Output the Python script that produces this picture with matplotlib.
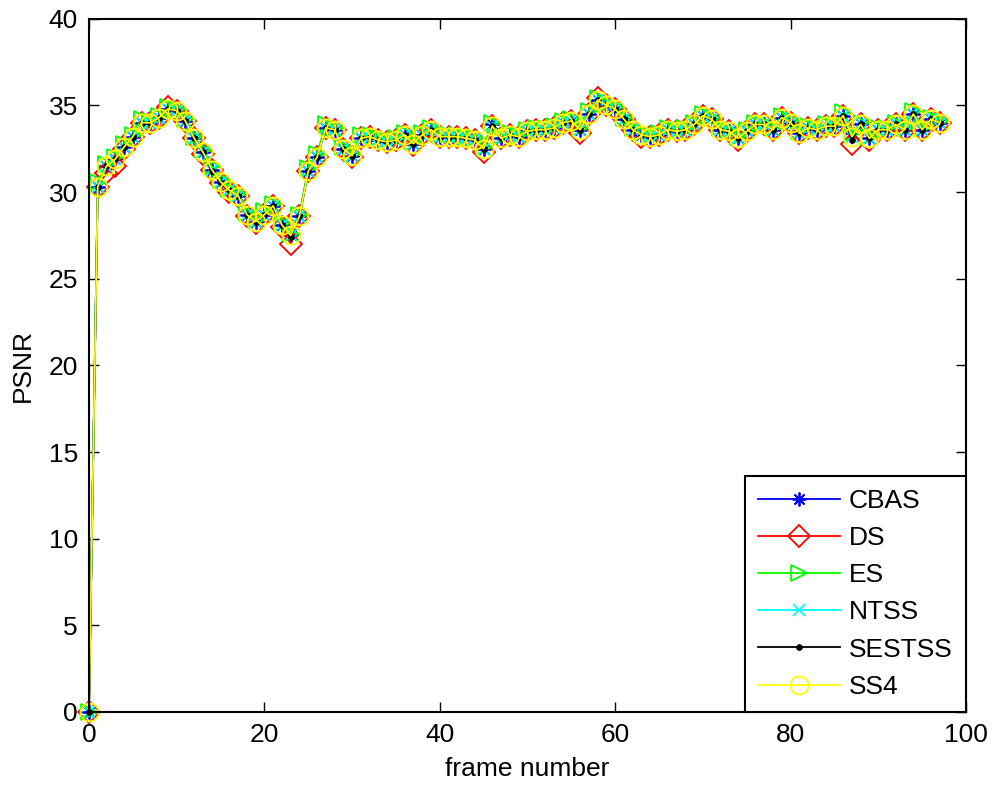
import numpy as np
import matplotlib
matplotlib.use("Agg")
import matplotlib.pyplot as plt

# PSNR per frame for each block-matching search method
frames = list(range(98))

cbas = [0.0, 30.3, 31.5, 31.9, 32.6, 33.2, 34.0, 34.0, 34.3, 34.8,
        34.7, 34.1, 33.1, 32.3, 31.3, 30.6, 30.1, 29.8, 28.7, 28.3,
        28.7, 29.2, 28.1, 27.5, 28.6, 31.2, 32.0, 33.7, 33.6, 32.5,
        32.1, 33.1, 33.2, 33.0, 32.9, 33.0, 33.3, 32.8, 33.3, 33.6,
        33.2, 33.2, 33.2, 33.1, 33.0, 32.5, 33.9, 33.1, 33.3, 33.2,
        33.5, 33.6, 33.6, 33.7, 34.0, 34.1, 33.6, 34.5, 35.3, 35.0,
        34.8, 34.2, 33.6, 33.3, 33.2, 33.3, 33.6, 33.5, 33.6, 33.9,
        34.4, 34.2, 33.6, 33.5, 33.1, 33.5, 33.9, 33.9, 33.6, 34.3,
        34.0, 33.4, 33.7, 33.6, 33.8, 33.8, 34.4, 33.4, 33.9, 33.1,
        33.6, 33.6, 33.9, 33.6, 34.5, 33.6, 34.2, 34.0]

ds = [0.0, 30.3, 31.1, 31.5, 32.5, 33.2, 34.0, 34.0, 34.3, 34.9,
      34.7, 34.1, 33.1, 32.2, 31.3, 30.5, 30.0, 29.8, 28.6, 28.2,
      28.7, 29.2, 28.0, 27.0, 28.6, 31.2, 32.0, 33.7, 33.6, 32.5,
      32.0, 33.1, 33.2, 33.0, 32.9, 33.0, 33.3, 32.7, 33.3, 33.6,
      33.2, 33.2, 33.2, 33.1, 33.0, 32.3, 33.8, 33.1, 33.3, 33.2,
      33.5, 33.6, 33.6, 33.7, 34.0, 34.1, 33.4, 34.5, 35.4, 35.0,
      34.8, 34.2, 33.6, 33.2, 33.2, 33.3, 33.6, 33.5, 33.6, 33.9,
      34.4, 34.2, 33.6, 33.5, 33.0, 33.5, 33.9, 33.9, 33.6, 34.3,
      34.0, 33.4, 33.7, 33.6, 33.8, 33.8, 34.4, 32.8, 33.9, 33.0,
      33.6, 33.6, 33.9, 33.6, 34.5, 33.6, 34.2, 34.0]

es = [0.0, 30.6, 31.6, 32.0, 32.8, 33.3, 34.2, 34.1, 34.4, 34.9,
      34.8, 34.2, 33.2, 32.4, 31.5, 30.7, 30.2, 29.9, 28.8, 28.4,
      28.9, 29.3, 28.2, 27.6, 28.7, 31.4, 32.2, 33.9, 33.7, 32.6,
      32.2, 33.3, 33.3, 33.1, 33.0, 33.1, 33.4, 32.9, 33.4, 33.7,
      33.3, 33.3, 33.3, 33.2, 33.1, 32.6, 34.0, 33.2, 33.4, 33.3,
      33.6, 33.7, 33.7, 33.8, 34.1, 34.2, 33.7, 34.7, 35.4, 35.1,
      34.9, 34.3, 33.7, 33.4, 33.3, 33.4, 33.7, 33.6, 33.7, 34.0,
      34.5, 34.3, 33.7, 33.6, 33.2, 33.6, 34.0, 34.0, 33.7, 34.4,
      34.1, 33.5, 33.8, 33.7, 33.9, 33.9, 34.6, 33.4, 34.0, 33.2,
      33.7, 33.7, 34.0, 33.7, 34.7, 33.7, 34.3, 34.1]

ntss = [0.0, 30.3, 31.5, 31.9, 32.6, 33.2, 34.0, 34.0, 34.3, 34.8,
        34.7, 34.1, 33.1, 32.3, 31.3, 30.6, 30.1, 29.8, 28.7, 28.3,
        28.7, 29.2, 28.1, 27.5, 28.6, 31.2, 32.0, 33.7, 33.6, 32.5,
        32.1, 33.1, 33.2, 33.0, 32.9, 33.0, 33.3, 32.8, 33.3, 33.6,
        33.2, 33.2, 33.2, 33.1, 33.0, 32.5, 33.8, 33.1, 33.3, 33.2,
        33.5, 33.6, 33.6, 33.7, 34.0, 34.1, 33.6, 34.5, 35.3, 35.0,
        34.8, 34.2, 33.6, 33.3, 33.2, 33.3, 33.6, 33.5, 33.6, 33.9,
        34.4, 34.2, 33.6, 33.5, 33.1, 33.5, 33.9, 33.9, 33.6, 34.3,
        34.0, 33.4, 33.7, 33.6, 33.8, 33.8, 34.4, 33.2, 33.9, 33.1,
        33.6, 33.6, 33.9, 33.6, 34.5, 33.6, 34.2, 34.0]

sestss = [0.0, 30.3, 31.5, 31.9, 32.6, 33.2, 34.0, 34.0, 34.3, 34.8,
          34.7, 34.1, 33.1, 32.3, 31.2, 30.5, 30.1, 29.8, 28.7, 28.3,
          28.7, 29.2, 28.1, 27.4, 28.6, 31.2, 32.0, 33.7, 33.6, 32.5,
          32.1, 33.1, 33.2, 33.0, 32.9, 33.0, 33.3, 32.8, 33.3, 33.6,
          33.2, 33.2, 33.2, 33.1, 33.0, 32.5, 33.8, 33.1, 33.3, 33.2,
          33.5, 33.6, 33.6, 33.7, 34.0, 34.1, 33.6, 34.5, 35.3, 35.0,
          34.8, 34.2, 33.6, 33.3, 33.2, 33.3, 33.6, 33.5, 33.6, 33.9,
          34.4, 34.2, 33.6, 33.5, 33.1, 33.5, 33.9, 33.9, 33.6, 34.3,
          34.0, 33.4, 33.7, 33.6, 33.8, 33.8, 34.4, 33.0, 33.9, 33.1,
          33.6, 33.6, 33.9, 33.6, 34.5, 33.6, 34.2, 34.0]

ss4 = [0.0, 30.3, 31.5, 31.9, 32.6, 33.2, 34.0, 34.0, 34.3, 34.8,
       34.7, 34.1, 33.1, 32.3, 31.3, 30.6, 30.1, 29.8, 28.7, 28.3,
       28.7, 29.2, 28.1, 27.5, 28.6, 31.2, 32.0, 33.7, 33.6, 32.5,
       32.1, 33.1, 33.2, 33.0, 32.9, 33.0, 33.3, 32.8, 33.3, 33.6,
       33.2, 33.2, 33.2, 33.1, 33.0, 32.5, 33.8, 33.1, 33.3, 33.2,
       33.5, 33.6, 33.6, 33.7, 34.0, 34.1, 33.6, 34.5, 35.3, 35.0,
       34.8, 34.2, 33.6, 33.3, 33.2, 33.3, 33.6, 33.5, 33.6, 33.9,
       34.4, 34.2, 33.6, 33.5, 33.1, 33.5, 33.9, 33.9, 33.6, 34.3,
       34.0, 33.4, 33.7, 33.6, 33.8, 33.8, 34.4, 33.2, 33.9, 33.1,
       33.6, 33.6, 33.9, 33.6, 34.5, 33.6, 34.2, 34.0]

labels = ["CBAS", "DS", "ES", "NTSS", "SESTSS", "SS4"]
series = [cbas, ds, es, ntss, sestss, ss4]

# matlab-like line specs: '*-b', 'd-r', '>-g', 'x-c', '.-k', 'o-y'
styles = [
    dict(color=(0, 0, 1), marker=(8, 2, 0), ms=10),
    dict(color=(1, 0, 0), marker="D", ms=11),
    dict(color=(0, 1, 0), marker=">", ms=12),
    dict(color=(0, 1, 1), marker="x", ms=8),
    dict(color=(0, 0, 0), marker=".", ms=7),
    dict(color=(1, 1, 0), marker="o", ms=13),
]

plt.rcParams.update({
    "font.family": ["Liberation Sans", "DejaVu Sans"],
    "font.size": 19,
})

fig = plt.figure(figsize=(9.95, 7.87), dpi=100)
ax = fig.add_axes([0.0894, 0.0953, 0.8814, 0.8809])

for y, lab, st in zip(series, labels, styles):
    face = st["color"] if st["marker"] == "." else "none"
    ax.plot(frames, y, "-", color=st["color"], lw=1.3, marker=st["marker"],
            ms=st["ms"], mfc=face, mec=st["color"], mew=1.3, label=lab,
            clip_on=False)

ax.set_xlim(0, 100)
ax.set_ylim(0, 40)
ax.set_xticks(np.arange(0, 101, 20))
ax.set_yticks(np.arange(0, 41, 5))
ax.tick_params(direction="in", top=True, right=True, length=7, width=1.0,
               labelsize=19, pad=8)
for sp in ax.spines.values():
    sp.set_linewidth(1.5)

ax.set_xlabel("frame number", fontsize=19, labelpad=7)
ax.set_ylabel("PSNR", fontsize=19, labelpad=10)

leg = ax.legend(loc="lower right", borderaxespad=0, fancybox=False,
                edgecolor="black", framealpha=1, fontsize=19,
                handlelength=3.1, labelspacing=0.5, borderpad=0.5,
                handletextpad=0.35)
leg.get_frame().set_linewidth(1.5)
leg.set_zorder(5)

fig.savefig("out.png", dpi=100)
